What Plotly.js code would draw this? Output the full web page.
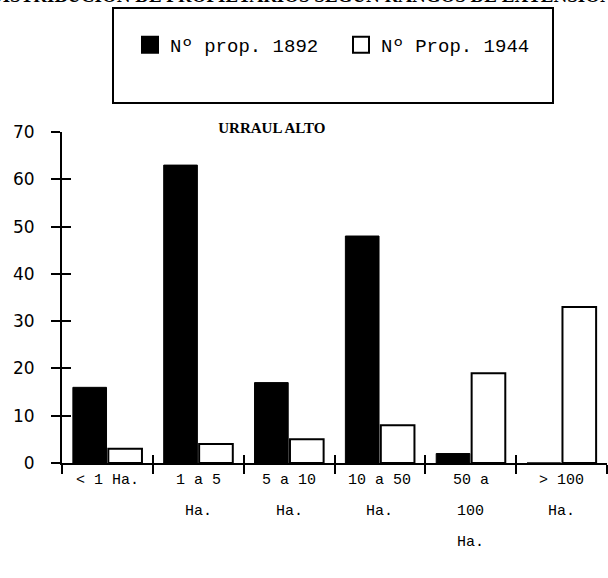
<!DOCTYPE html>
<html>
<head>
<meta charset="utf-8">
<script src="https://cdn.plot.ly/plotly-3.0.1.min.js"></script>
<style>html,body{margin:0;padding:0;background:#fff;}#chart{width:608px;height:578px;}</style>
</head>
<body>
<div id="chart"></div>
<script>
// ---- data ----
const categories = ['< 1 Ha.', '1 a 5 Ha.', '5 a 10 Ha.', '10 a 50 Ha.', '50 a 100 Ha.', '> 100 Ha.'];
const labelLines = [['< 1 Ha.'], ['1 a 5', 'Ha.'], ['5 a 10', 'Ha.'], ['10 a 50', 'Ha.'], ['50 a', '100', 'Ha.'], ['> 100', 'Ha.']];
const props1892 = [16, 63, 17, 48, 2, 0];
const props1944 = [3, 4, 5, 8, 19, 33];
const seriesNames = ['Nº prop. 1892', 'Nº Prop. 1944'];
const chartTitle = 'URRAUL ALTO';
const headerText = 'DISTRIBUCIÓN DE PROPIETARIOS SEGÚN RANGOS DE EXTENSIÓN';
const yTicks = [0, 10, 20, 30, 40, 50, 60, 70];

const monoFont = 'Liberation Mono, monospace';

const traces = [
  {type: 'bar', name: seriesNames[0], legendgroup: 'a', showlegend: false, x: categories, y: props1892,
   marker: {color: '#000', line: {color: '#000', width: 1}}, hoverinfo: 'skip'},
  {type: 'bar', name: seriesNames[1], legendgroup: 'b', showlegend: false, x: categories, y: props1944,
   marker: {color: '#fff', line: {color: '#000', width: 2}}, hoverinfo: 'skip'},
  // legend keys (no data drawn)
  {type: 'scatter', mode: 'markers', name: seriesNames[0], legendgroup: 'a', x: [null], y: [null],
   marker: {symbol: 'square', size: 16, color: '#000', line: {color: '#000', width: 2}}, hoverinfo: 'skip'},
  {type: 'scatter', mode: 'markers', name: seriesNames[1], legendgroup: 'b', x: [null], y: [null],
   marker: {symbol: 'square', size: 16, color: '#fff', line: {color: '#000', width: 2}}, hoverinfo: 'skip'},
  // carrier for the overlay axes that draw the crossing ticks
  {type: 'scatter', mode: 'markers', x: categories, y: props1944, xaxis: 'x2', yaxis: 'y2',
   marker: {opacity: 0}, showlegend: false, hoverinfo: 'skip'}
];

const annotations = [];
labelLines.forEach((lines, i) => {
  lines.forEach((txt, j) => {
    annotations.push({
      text: txt, x: categories[i], xref: 'x', y: 0, yref: 'paper',
      yanchor: 'middle', xanchor: 'center', showarrow: false,
      yshift: -(17 + 31 * j), font: {family: monoFont, size: 15, color: '#000'}
    });
  });
});
annotations.push({
  text: '<b>' + headerText + '</b>', xref: 'paper', yref: 'paper', x: 0.44, y: 1 + (132 - 8) / 331,
  xanchor: 'center', yanchor: 'bottom', showarrow: false,
  font: {family: 'Liberation Serif, serif', size: 19, color: '#000'}
});

const axisCommon = {color: '#000', showgrid: false, zeroline: false, fixedrange: true};

const layout = {
  width: 608, height: 578,
  margin: {l: 62, r: 1, t: 132, b: 115, pad: 0},
  paper_bgcolor: '#fff', plot_bgcolor: '#fff',
  showlegend: true,
  barmode: 'group', bargap: 0.22, bargroupgap: 0.05,
  title: {text: '<b>' + chartTitle + '</b>', x: 0.385, xref: 'paper', xanchor: 'center',
          y: 1 - 128 / 578, yref: 'container', yanchor: 'middle',
          font: {family: 'Liberation Serif, serif', size: 15, color: '#000'}},
  xaxis: Object.assign({}, axisCommon, {
    type: 'category', categoryarray: categories, range: [-0.5, 5.5],
    tickson: 'boundaries', ticks: 'outside', ticklen: 9, tickwidth: 2, tickcolor: '#000',
    showline: true, linewidth: 2, linecolor: '#000', showticklabels: false
  }),
  xaxis2: Object.assign({}, axisCommon, {
    type: 'category', categoryarray: categories, range: [-0.5, 5.5], overlaying: 'x', anchor: 'y',
    tickson: 'boundaries', ticks: 'inside', ticklen: 8, tickwidth: 2, tickcolor: '#000',
    showline: false, showticklabels: false
  }),
  yaxis: Object.assign({}, axisCommon, {
    range: [0, 70], tickvals: yTicks, ticks: 'outside', ticklen: 9, tickwidth: 2, tickcolor: '#000',
    showline: true, linewidth: 2, linecolor: '#000', ticklabelstandoff: 13,
    tickfont: {family: 'DejaVu Sans, sans-serif', size: 17, color: '#000'}
  }),
  yaxis2: Object.assign({}, axisCommon, {
    range: [0, 70], tickvals: yTicks, overlaying: 'y', side: 'left', anchor: 'x',
    ticks: 'inside', ticklen: 9, tickwidth: 2, tickcolor: '#000', showline: false, showticklabels: false
  }),
  legend: {orientation: 'h', x: (130 - 62) / 545, xanchor: 'left', y: 1 + (132 - 45) / 331, yanchor: 'middle',
           entrywidth: 166, entrywidthmode: 'pixels',
           bgcolor: 'rgba(0,0,0,0)', borderwidth: 0, itemclick: false, itemdoubleclick: false,
           font: {family: monoFont, size: 19, color: '#000'}},
  shapes: [{type: 'rect', xref: 'paper', yref: 'paper',
            x0: (113 - 62) / 545, x1: (553 - 62) / 545,
            y0: 1 + (132 - 103) / 331, y1: 1 + (132 - 8) / 331,
            line: {color: '#000', width: 2}, fillcolor: 'rgba(0,0,0,0)'}],
  annotations: annotations
};

Plotly.newPlot('chart', traces, layout, {displayModeBar: false, staticPlot: true});
</script>
</body>
</html>
